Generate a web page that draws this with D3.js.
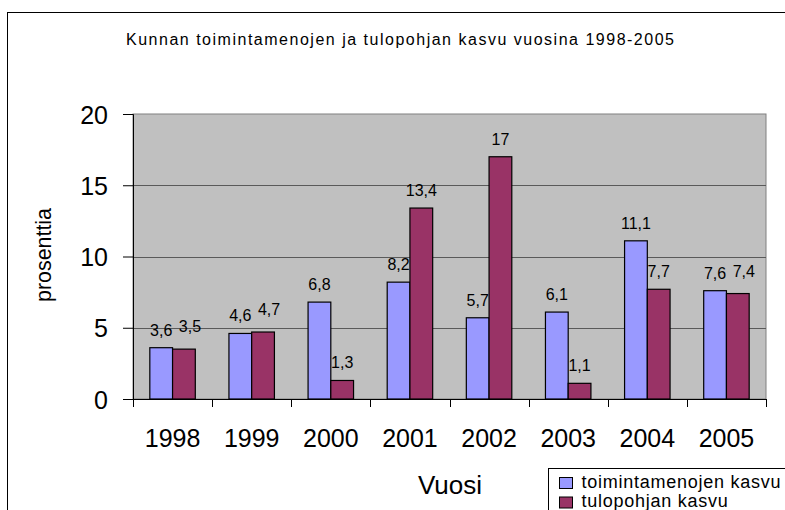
<!DOCTYPE html>
<html>
<head>
    <meta charset="utf-8">
    <title>Kunnan toimintamenojen ja tulopohjan kasvu</title>
    <script src="https://d3js.org/d3.v7.min.js"></script>
    <style>
        body { margin: 0; background: #fff; }
        text { font-family: "Liberation Sans", Arial, sans-serif; fill: #000; }
    </style>
</head>

<body>
<div id="chart"></div>
<script type="text/javascript">
    // data
    let years = ["1998", "1999", "2000", "2001", "2002", "2003", "2004", "2005"];
    let menot = [3.6, 4.6, 6.8, 8.2, 5.7, 6.1, 11.1, 7.6];
    let tulopohja = [3.5, 4.7, 1.3, 13.4, 17, 1.1, 7.7, 7.4];
    let seriesNames = ["toimintamenojen kasvu", "tulopohjan kasvu"];
    let seriesColors = ["#9999ff", "#993366"];
    let yTicks = [0, 5, 10, 15, 20];

    let W = 785, H = 510;
    let plot = {left: 133, right: 766, top: 114, bottom: 399};

    let svg = d3.select("#chart")
            .append("svg")
                .attr("width", W)
                .attr("height", H);

    // outer chart border (runs off the right and bottom edges)
    svg.append("rect")
        .attr("x", 7.5).attr("y", 12.5)
        .attr("width", 820).attr("height", 540)
        .attr("fill", "#fff")
        .attr("stroke", "#000");

    svg.append("text")
        .attr("x", 400).attr("y", 45)
        .attr("text-anchor", "middle")
        .attr("font-size", "16px")
        .attr("textLength", 548)
        .attr("lengthAdjust", "spacing")
        .text("Kunnan toimintamenojen ja tulopohjan kasvu vuosina 1998-2005");

    let x0 = d3.scaleBand()
                .domain(years)
                .range([plot.left, plot.right]);

    let x1 = d3.scaleBand()
                .domain([0, 1])
                .range([0, x0.bandwidth()])
                .paddingInner(0)
                .paddingOuter(0.74);

    let y = d3.scaleLinear()
                .domain([0, 20])
                .range([plot.bottom, plot.top]);

    // gray plot area
    svg.append("rect")
        .attr("x", plot.left).attr("y", plot.top)
        .attr("width", plot.right - plot.left)
        .attr("height", plot.bottom - plot.top)
        .attr("fill", "#c0c0c0")
        .attr("stroke", "#808080");

    // gridlines
    svg.append("g")
        .selectAll("line")
        .data(yTicks.filter(d => d > 0 && d < 20))
        .enter()
        .append("line")
            .attr("x1", plot.left).attr("x2", plot.right)
            .attr("y1", d => Math.round(y(d)) + 0.5)
            .attr("y2", d => Math.round(y(d)) + 0.5)
            .attr("stroke", "#5a5a5a");

    // bars
    let data = years.map((yr, i) => ({year: yr, vals: [menot[i], tulopohja[i]]}));

    let groups = svg.append("g")
        .selectAll("g")
        .data(data)
        .enter()
        .append("g")
            .attr("transform", d => "translate(" + x0(d.year) + ",0)");

    groups.selectAll("rect")
        .data(d => d.vals.map((v, s) => ({v: v, s: s})))
        .enter()
        .append("rect")
            .attr("x", d => x1(d.s))
            .attr("y", d => y(d.v))
            .attr("width", x1.bandwidth())
            .attr("height", d => plot.bottom - y(d.v))
            .attr("fill", d => seriesColors[d.s])
            .attr("stroke", "#000")
            .attr("stroke-width", 1.2);

    // value labels; when the two labels of a year would touch,
    // the second one is nudged up and to the right
    groups.selectAll("text")
        .data(d => d.vals.map((v, s) => ({v: v, s: s, near: Math.abs(d.vals[0] - d.vals[1]) < 1})))
        .enter()
        .append("text")
            .attr("x", d => x1(d.s) + x1.bandwidth() / 2 + (d.near && d.s === 1 ? 6 : 0))
            .attr("y", d => y(d.v) - 12 - (d.near && d.s === 1 ? 5 : 0))
            .attr("text-anchor", "middle")
            .attr("font-size", "16px")
            .text(d => String(d.v).replace(".", ","));

    // y axis
    let yAxis = d3.axisLeft(y)
                    .tickValues(yTicks)
                    .tickSize(10)
                    .tickPadding(15);

    let gy = svg.append("g")
        .attr("transform", "translate(" + plot.left + ",0)")
        .call(yAxis);
    gy.select(".domain").attr("stroke", "#000");
    gy.selectAll("text")
        .attr("font-size", "25px")
        .attr("font-family", "Liberation Sans, Arial, sans-serif")
        .attr("dy", "0.36em");

    // x axis: labels in the middle of each category
    let xAxis = d3.axisBottom(x0)
                    .tickSize(0)
                    .tickPadding(30);

    let gx = svg.append("g")
        .attr("transform", "translate(0," + plot.bottom + ")")
        .call(xAxis);
    gx.select(".domain").attr("stroke", "#000");
    gx.selectAll("text")
        .attr("font-size", "25px")
        .attr("font-family", "Liberation Sans, Arial, sans-serif");

    // x tick marks between categories
    let edges = years.map(d => x0(d)).concat([plot.right]);
    gx.selectAll(".edge")
        .data(edges)
        .enter()
        .append("line")
            .attr("class", "edge")
            .attr("x1", d => Math.round(d) + 0.5).attr("x2", d => Math.round(d) + 0.5)
            .attr("y1", 0).attr("y2", 8)
            .attr("stroke", "#000");

    // axis titles
    svg.append("text")
        .attr("transform", "translate(51,255) rotate(-90)")
        .attr("text-anchor", "middle")
        .attr("font-size", "22px")
        .attr("textLength", 94)
        .attr("lengthAdjust", "spacingAndGlyphs")
        .text("prosenttia");

    svg.append("text")
        .attr("x", 450).attr("y", 494)
        .attr("text-anchor", "middle")
        .attr("font-size", "26px")
        .text("Vuosi");

    // legend (its box runs off the picture, as in the original)
    let legend = svg.append("g")
        .attr("transform", "translate(548.5,468.5)");

    legend.append("rect")
        .attr("width", 260).attr("height", 60)
        .attr("fill", "#fff")
        .attr("stroke", "#000");

    let items = legend.selectAll(".item")
        .data(seriesNames)
        .enter()
        .append("g")
            .attr("class", "item")
            .attr("transform", (d, i) => "translate(0," + (i * 19.5) + ")");

    items.append("rect")
        .attr("x", 11).attr("y", 9)
        .attr("width", 13).attr("height", 11)
        .attr("fill", (d, i) => seriesColors[i])
        .attr("stroke", "#000");

    items.append("text")
        .attr("x", 33).attr("y", 19)
        .attr("font-size", "18px")
        .attr("letter-spacing", "0.75px")
        .text(d => d);
</script>
</body>
</html>
